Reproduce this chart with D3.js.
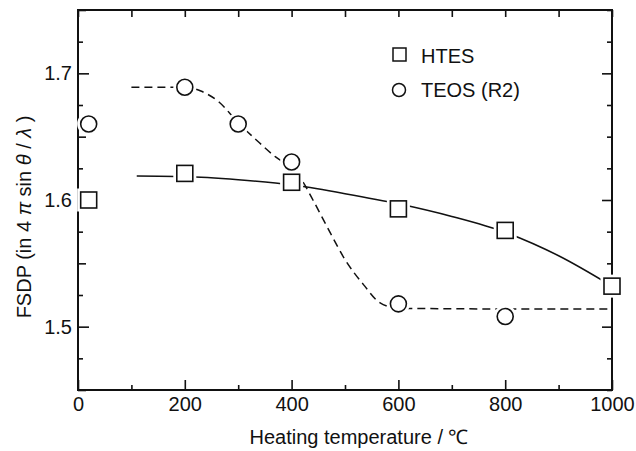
<!DOCTYPE html>
<html>
<head>
<meta charset="utf-8">
<script src="https://cdn.jsdelivr.net/npm/d3@7"></script>
<style>
  html, body { margin: 0; padding: 0; background: #fff; }
  svg { display: block; font-family: "Liberation Sans", Arial, Helvetica, sans-serif; }
</style>
</head>
<body>
<svg id="chart" width="636" height="451"></svg>
<script>
// Measured points
const htesTemps = [20, 200, 400, 600, 800, 1000];
const htesFsdp  = [1.600, 1.621, 1.614, 1.593, 1.576, 1.532];
const teosTemps = [20, 200, 300, 400, 600, 800];
const teosFsdp  = [1.660, 1.689, 1.660, 1.630, 1.518, 1.508];

// Guide-to-the-eye curves
const htesFitTemps = [110, 200, 300, 400, 500, 600, 700, 800, 900, 1000];
const htesFitFsdp  = [1.619, 1.6185, 1.616, 1.612, 1.605, 1.597, 1.587, 1.5745, 1.556, 1.532];
const teosFitTemps = [100, 200, 230, 265, 300, 335, 370, 400, 420, 440, 470, 500, 535, 565, 600, 800, 1000];
const teosFitFsdp  = [1.689, 1.689, 1.686, 1.677, 1.661, 1.647, 1.634, 1.625, 1.615, 1.600, 1.576, 1.553, 1.533, 1.519, 1.5145, 1.514, 1.514];

// Axes
const xMajorTicks = [0, 200, 400, 600, 800, 1000];
const xMinorTicks = [100, 300, 500, 700, 900];
const yMajorTicks = [1.5, 1.6, 1.7];
const yMidTicks   = [1.45, 1.55, 1.65, 1.75];
const yMinorTicks = [1.475, 1.525, 1.575, 1.625, 1.675, 1.725];
const seriesNames = ["HTES", "TEOS (R2)"];

const svg = d3.select("#chart");
const ink = "#111";
const L = 78, R = 612, T = 10, B = 390;
const W = R - L, H = B - T;

const x = d3.scaleLinear().domain([0, 1000]).range([0, W]);
const y = d3.scaleLinear().domain([1.45, 1.75]).range([H, 0]);

const g = svg.append("g").attr("transform", `translate(${L},${T})`);

function styleAxis(sel) {
  sel.select(".domain").remove();
  sel.selectAll("line").attr("stroke", ink).attr("stroke-width", 1.6);
  sel.selectAll("text").attr("fill", ink).attr("font-size", 20)
     .attr("font-family", "'Liberation Sans', Arial, sans-serif");
}

// bottom
g.append("g").attr("transform", `translate(0,${H})`)
  .call(d3.axisBottom(x).tickValues(xMajorTicks).tickSize(-10).tickPadding(7).tickFormat(d3.format("d")))
  .call(styleAxis);
g.append("g").attr("transform", `translate(0,${H})`)
  .call(d3.axisBottom(x).tickValues(xMinorTicks).tickSize(-5).tickFormat(""))
  .call(styleAxis);
// top
g.append("g")
  .call(d3.axisTop(x).tickValues(xMajorTicks.concat(xMinorTicks)).tickSize(-7).tickFormat(""))
  .call(styleAxis);
// left
g.append("g")
  .call(d3.axisLeft(y).tickValues(yMajorTicks).tickSize(-11).tickPadding(6).tickFormat(d3.format(".1f")))
  .call(styleAxis);
g.append("g")
  .call(d3.axisLeft(y).tickValues(yMidTicks).tickSize(-8).tickFormat(""))
  .call(styleAxis);
g.append("g")
  .call(d3.axisLeft(y).tickValues(yMinorTicks).tickSize(-5).tickFormat(""))
  .call(styleAxis);
// right
g.append("g").attr("transform", `translate(${W},0)`)
  .call(d3.axisRight(y).tickValues(yMajorTicks).tickSize(-10).tickFormat(""))
  .call(styleAxis);
g.append("g").attr("transform", `translate(${W},0)`)
  .call(d3.axisRight(y).tickValues(yMidTicks.concat(yMinorTicks)).tickSize(-5).tickFormat(""))
  .call(styleAxis);

// frame
g.append("rect").attr("x", 0).attr("y", 0).attr("width", W).attr("height", H)
  .attr("fill", "none").attr("stroke", ink).attr("stroke-width", 2);

// curves
const line = d3.line().x(d => x(d[0])).y(d => y(d[1])).curve(d3.curveMonotoneX);
g.append("path")
  .datum(htesFitTemps.map((t, i) => [t, htesFitFsdp[i]]))
  .attr("d", line).attr("fill", "none").attr("stroke", ink).attr("stroke-width", 1.5);
g.append("path")
  .datum(teosFitTemps.map((t, i) => [t, teosFitFsdp[i]]))
  .attr("d", line).attr("fill", "none").attr("stroke", ink).attr("stroke-width", 1.5)
  .attr("stroke-dasharray", "8,5");

const htesPts = htesTemps.map((t, i) => [t, htesFsdp[i]]);
const teosPts = teosTemps.map((t, i) => [t, teosFsdp[i]]);
const sq = 16, rad = 8;

// white halos break the curves around each marker
g.selectAll(".halo-sq").data(htesPts).join("rect")
  .attr("x", d => x(d[0]) - sq / 2).attr("y", d => y(d[1]) - sq / 2)
  .attr("width", sq).attr("height", sq)
  .attr("fill", "#fff").attr("stroke", "#fff").attr("stroke-width", 7);
g.selectAll(".halo-ci").data(teosPts).join("circle")
  .attr("cx", d => x(d[0])).attr("cy", d => y(d[1])).attr("r", rad)
  .attr("fill", "#fff").attr("stroke", "#fff").attr("stroke-width", 7);

// markers
g.selectAll(".m-ci").data(teosPts).join("circle")
  .attr("cx", d => x(d[0])).attr("cy", d => y(d[1])).attr("r", rad)
  .attr("fill", "#fff").attr("stroke", ink).attr("stroke-width", 1.6);
g.selectAll(".m-sq").data(htesPts).join("rect")
  .attr("x", d => x(d[0]) - sq / 2).attr("y", d => y(d[1]) - sq / 2)
  .attr("width", sq).attr("height", sq)
  .attr("fill", "#fff").attr("stroke", ink).attr("stroke-width", 1.6);

// legend
const lg = svg.append("g");
lg.append("rect").attr("x", 393).attr("y", 48).attr("width", 13).attr("height", 13)
  .attr("fill", "none").attr("stroke", ink).attr("stroke-width", 1.5);
lg.append("text").attr("x", 421).attr("y", 63).attr("font-size", 20).attr("fill", ink).text(seriesNames[0]);
lg.append("circle").attr("cx", 399).attr("cy", 90).attr("r", 6.5)
  .attr("fill", "none").attr("stroke", ink).attr("stroke-width", 1.5);
lg.append("text").attr("x", 421).attr("y", 97).attr("font-size", 20).attr("fill", ink).text(seriesNames[1]);

// axis titles
svg.append("text").attr("x", 359).attr("y", 444).attr("text-anchor", "middle")
  .attr("font-size", 20).attr("fill", ink).text("Heating temperature / ℃");

const yt = svg.append("text").attr("transform", "translate(31,217) rotate(-90)")
  .attr("text-anchor", "middle").attr("font-size", 20).attr("fill", ink);
yt.append("tspan").text("FSDP (in 4 ");
yt.append("tspan").attr("font-style", "italic").text("π");
yt.append("tspan").text(" sin ");
yt.append("tspan").attr("font-style", "italic").text("θ");
yt.append("tspan").text(" / ");
yt.append("tspan").attr("font-style", "italic").text("λ");
yt.append("tspan").text(" )");
</script>
</body>
</html>
